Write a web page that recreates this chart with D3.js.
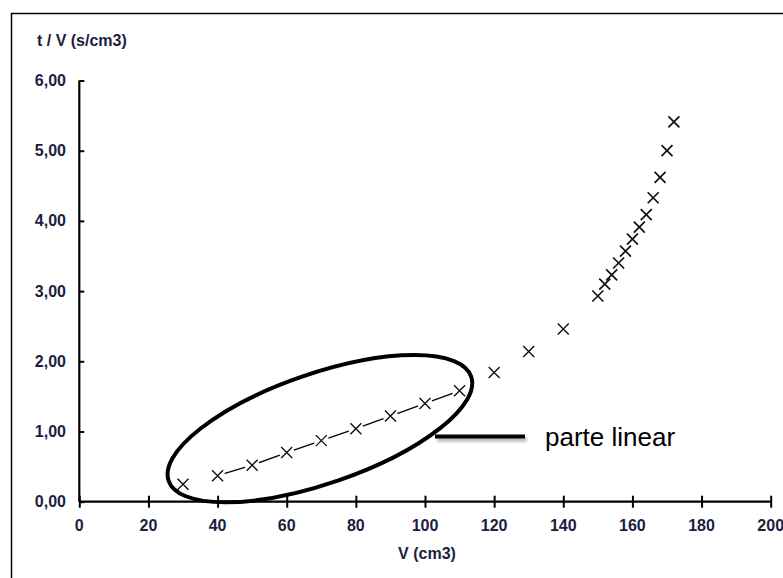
<!DOCTYPE html>
<html>
<head>
<meta charset="utf-8">
<script src="https://cdn.jsdelivr.net/npm/d3@7"></script>
<style>
    body { margin: 0; background: #fff; }
    .tick-label { font-family: "Liberation Sans", Arial, sans-serif; font-weight: bold; font-size: 16px; fill: #1d1d3f; }
</style>
</head>
<body>
<div id="chart"></div>
<script>
// data
var volumes = [30, 40, 50, 60, 70, 80, 90, 100, 110, 120, 130, 140,
    150, 152, 154, 156, 158, 160, 162, 164, 166, 168, 170, 172];
var tPerV = [0.25, 0.37, 0.52, 0.70, 0.87, 1.04, 1.22, 1.40, 1.58, 1.84, 2.14, 2.46,
    2.93, 3.10, 3.23, 3.40, 3.57, 3.74, 3.91, 4.09, 4.33, 4.62, 5.00, 5.41];
var linearRange = [40, 110];
var xTicks = [0, 20, 40, 60, 80, 100, 120, 140, 160, 180, 200];
var yTicks = [0, 1, 2, 3, 4, 5, 6];
var xLabel = "V (cm3)";
var yLabel = "t / V (s/cm3)";
var noteText = "parte linear";

var data = volumes.map(function(v, i) { return {v: v, r: tPerV[i]}; });
var linearData = data.filter(function(d) { return d.v >= linearRange[0] && d.v <= linearRange[1]; });

var width = 783, height = 578;

var svg = d3.select("#chart").append("svg")
    .attr("width", width)
    .attr("height", height);

var defs = svg.append("defs");
var shadow = defs.append("filter").attr("id", "shadow")
    .attr("filterUnits", "userSpaceOnUse")
    .attr("x", 400).attr("y", 400).attr("width", 160).attr("height", 80);
shadow.append("feDropShadow")
    .attr("dx", 2).attr("dy", 3).attr("stdDeviation", 1.5)
    .attr("flood-color", "#000").attr("flood-opacity", 0.3);

// frame (runs off the right and bottom of the picture)
svg.append("rect")
    .attr("x", 11.5).attr("y", 13.5)
    .attr("width", 800).attr("height", 600)
    .attr("fill", "none")
    .attr("stroke", "#000")
    .attr("stroke-width", 1.5);

var x = d3.scaleLinear().domain([0, 200]).range([79.3, 770.7]);
var y = d3.scaleLinear().domain([0, 6]).range([501.7, 80.5]);

// axes
var xAxis = svg.append("g")
    .attr("transform", "translate(0," + y(0) + ")")
    .call(d3.axisBottom(x).tickValues(xTicks).tickSize(6).tickFormat(""));
xAxis.select(".domain").attr("d", "M" + x(0) + ",0H" + x(200)).attr("stroke-width", 2.2);
xAxis.selectAll(".tick line").attr("y1", -6).attr("stroke-width", 2);

var yAxis = svg.append("g")
    .attr("transform", "translate(" + x(0) + ",0)")
    .call(d3.axisLeft(y).tickValues(yTicks).tickSize(5).tickFormat(""));
yAxis.select(".domain").attr("d", "M0," + y(6) + "V" + y(0)).attr("stroke-width", 2.2);
yAxis.selectAll(".tick line").attr("x2", 5).attr("stroke-width", 2);

svg.append("g").selectAll("text")
    .data(xTicks)
    .enter().append("text")
    .attr("class", "tick-label")
    .attr("x", function(d) { return x(d); })
    .attr("y", 531)
    .attr("text-anchor", "middle")
    .text(function(d) { return d; });

svg.append("g").selectAll("text")
    .data(yTicks)
    .enter().append("text")
    .attr("class", "tick-label")
    .attr("x", 66)
    .attr("y", function(d) { return y(d) + 5.5; })
    .attr("text-anchor", "end")
    .text(function(d) { return d3.format(".2f")(d).replace(".", ","); });

svg.append("text")
    .attr("class", "tick-label")
    .attr("x", 37).attr("y", 46)
    .text(yLabel);

svg.append("text")
    .attr("class", "tick-label")
    .attr("x", 427).attr("y", 559)
    .attr("text-anchor", "middle")
    .text(xLabel);

// line through the linear part
svg.append("path")
    .datum(linearData)
    .attr("fill", "none")
    .attr("stroke", "#000")
    .attr("stroke-width", 1.3)
    .attr("d", d3.line().x(function(d) { return x(d.v); }).y(function(d) { return y(d.r); }));

var s = 5.5;
var marks = svg.append("g").selectAll("g")
    .data(data)
    .enter().append("g")
    .attr("transform", function(d) { return "translate(" + x(d.v) + "," + y(d.r) + ")"; });

marks.filter(function(d) { return d.v >= linearRange[0] && d.v <= linearRange[1]; })
    .append("circle")
    .attr("r", 7.5)
    .attr("fill", "#fff");

marks.append("path")
    .attr("d", "M" + (-s) + "," + (-s) + "L" + s + "," + s + "M" + (-s) + "," + s + "L" + s + "," + (-s))
    .attr("fill", "none")
    .attr("stroke", "#111")
    .attr("stroke-width", function(d) { return d.v >= 150 ? 1.7 : 1.4; });

// ellipse round the linear part (centre in data units)
var ellipseCentre = {v: 69.6, r: 1.04};
svg.append("ellipse")
    .attr("cx", 0).attr("cy", 0)
    .attr("rx", 160).attr("ry", 55)
    .attr("transform", "translate(" + x(ellipseCentre.v) + "," + y(ellipseCentre.r) + ") rotate(-19)")
    .attr("fill", "none")
    .attr("stroke", "#000")
    .attr("stroke-width", 4);

// callout
var noteY = 0.93;
svg.append("line")
    .attr("x1", 435).attr("x2", 525)
    .attr("y1", y(noteY)).attr("y2", y(noteY))
    .attr("stroke", "#000")
    .attr("stroke-width", 4)
    .attr("filter", "url(#shadow)");

svg.append("text")
    .attr("x", 545).attr("y", y(noteY) + 10)
    .attr("font-family", "'Liberation Sans', Arial, sans-serif")
    .attr("font-size", 26)
    .attr("fill", "#000")
    .text(noteText);
</script>
</body>
</html>
